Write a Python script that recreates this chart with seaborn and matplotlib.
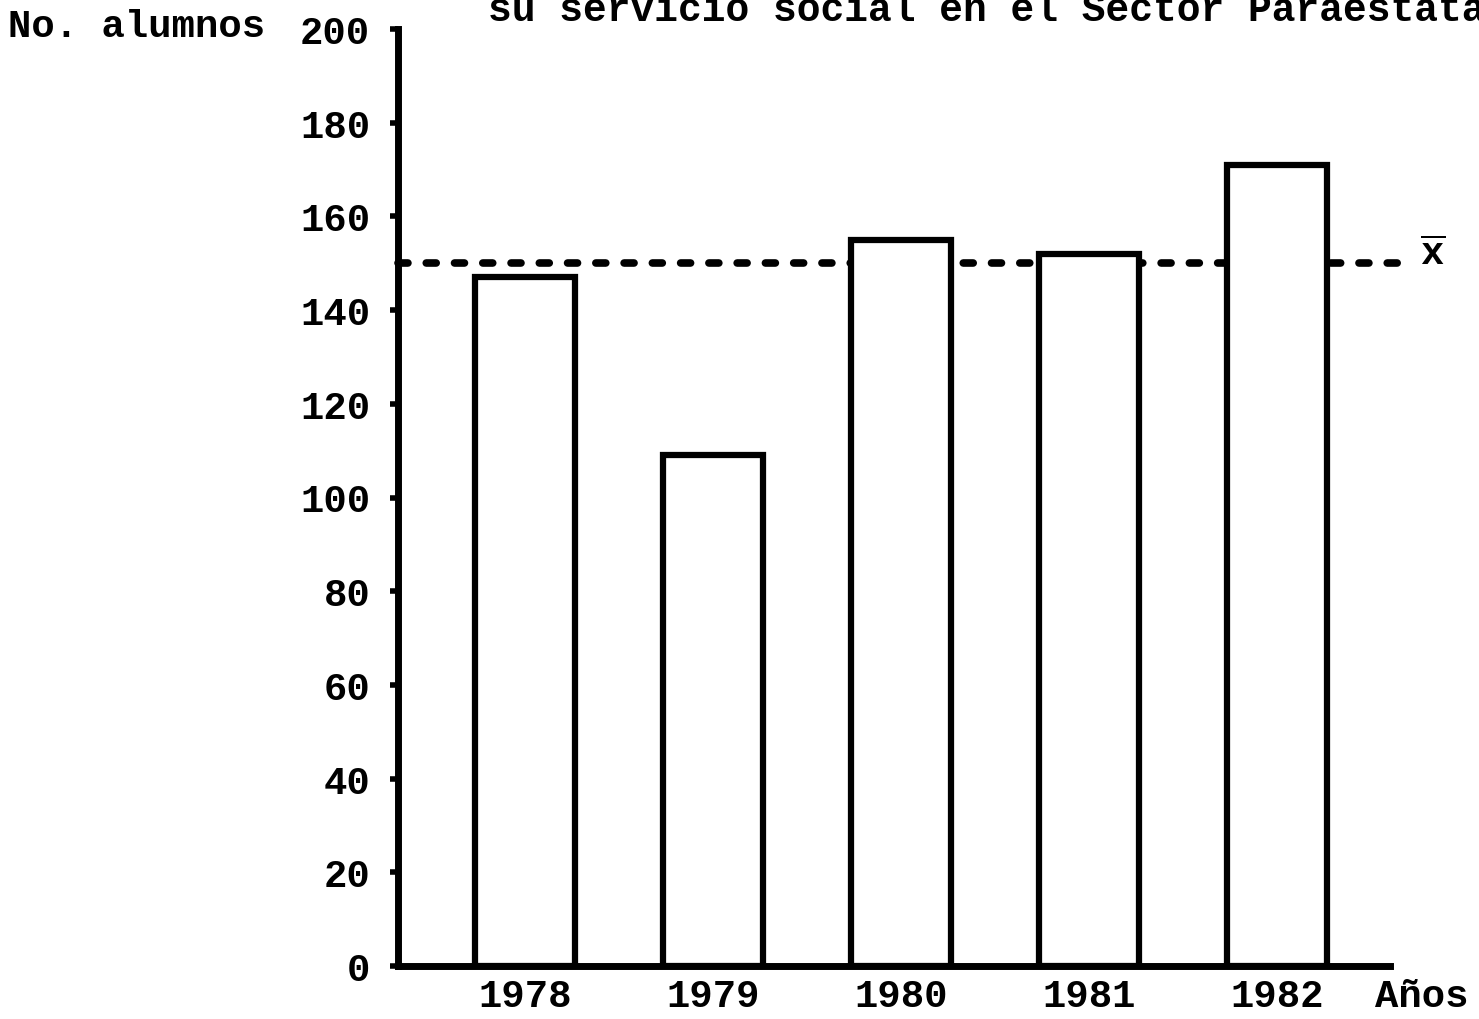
import matplotlib
matplotlib.use("Agg")
import matplotlib.pyplot as plt
import seaborn as sns
import pandas as pd

years = ["1978", "1979", "1980", "1981", "1982"]
alumnos = [147, 109, 155, 152, 171]
media = 150
y_ticks = [0, 20, 40, 60, 80, 100, 120, 140, 160, 180, 200]

sns.set_theme(style="white")
plt.rcParams["font.family"] = ["Liberation Mono", "DejaVu Sans"]
plt.rcParams["mathtext.fontset"] = "custom"
plt.rcParams["mathtext.rm"] = "Liberation Mono"
plt.rcParams["mathtext.bf"] = "Liberation Mono:bold"

df = pd.DataFrame({"year": years, "n": alumnos})

fig = plt.figure(figsize=(14.79, 10.20), dpi=100)
ax = fig.add_axes([398/1479, 53/1020, (1418-398)/1479, (967-30)/1020])

sns.barplot(data=df, x="year", y="n", color="white", edgecolor="black",
            linewidth=4.5, width=0.53, saturation=1, ax=ax, zorder=3)

ax.plot([-0.675, 4.65], [media, media], color="black", lw=5.5,
        ls=(0, (1.3, 2.4)), dash_capstyle="round", zorder=1, clip_on=False)

ax.set_xlim(-0.675, 4.75)
ax.set_ylim(0, 200)
ax.set_yticks(y_ticks)
ax.set_yticklabels([str(v) for v in y_ticks])
ax.set_xlabel("")
ax.set_ylabel("")

for s in ["top", "right"]:
    ax.spines[s].set_visible(False)
for s in ["left", "bottom"]:
    ax.spines[s].set_linewidth(5)
    ax.spines[s].set_color("black")
ax.spines["bottom"].set_bounds(-0.675, 4.6)

ax.tick_params(axis="y", left=True, length=6, width=4, pad=14, labelsize=28, color="black")
ax.tick_params(axis="x", bottom=False, pad=2, labelsize=28)
for lab in ax.get_xticklabels() + ax.get_yticklabels():
    lab.set_fontweight("bold")
    lab.set_color("black")
for lab in ax.get_xticklabels():
    lab.set_verticalalignment("center")
    lab.set_y(-0.02)

ax.text(4.83, media + 2, r"$\overline{\mathbf{x}}$", fontsize=28, ha="center",
        va="center", clip_on=False, color="black")

fig.text(1422/1479, 1 - 997/1020, "Años", fontsize=28, fontweight="bold",
         ha="center", va="center", color="black")
fig.text(8/1479, 1 - 27/1020, "No. alumnos", fontsize=28, fontweight="bold",
         ha="left", va="center", color="black")
fig.text(488/1479, 1 - 10/1020, "su servicio social en el Sector Paraestatal",
         fontsize=28.5, fontweight="bold", ha="left", va="center", color="black")

fig.savefig("out.png", dpi=100, facecolor="white")
